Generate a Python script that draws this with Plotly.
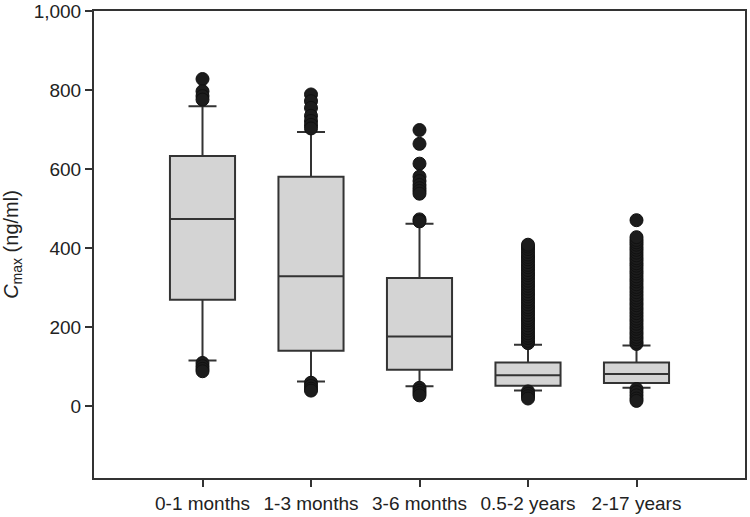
import plotly.graph_objects as go

# age groups and box statistics (ng/ml)
groups = ['0-1 months', '1-3 months', '3-6 months', '0.5-2 years', '2-17 years']
q1 = [270, 141, 93, 52, 59]
median = [474, 329, 177, 79, 82]
q3 = [633, 581, 325, 111, 111]
lower_whisker = [116, 63, 51, 40, 47]
upper_whisker = [759, 694, 462, 156, 154]

# outliers per group
outliers = {
    '0-1 months': [828, 797, 785, 776, 110, 102, 95, 89],
    '1-3 months': [789, 772, 755, 735, 722, 712, 703, 60, 52, 45, 40],
    '3-6 months': [699, 664, 614, 581, 570, 560, 552, 545, 538, 473, 468,
                   47, 40, 34, 28],
    '0.5-2 years': [160, 166, 173, 179, 185, 192, 198, 205, 212, 218, 224, 231,
                    238, 245, 251, 258, 265, 271, 278, 284, 291, 298, 305, 311,
                    318, 325, 332, 338, 345, 352, 358, 365, 372, 378, 384, 391,
                    398, 404, 409, 38, 32, 26, 20],
    '2-17 years': [158, 163, 170, 176, 183, 189, 196, 202, 209, 216, 222, 229,
                   236, 243, 249, 256, 262, 269, 275, 282, 289, 296, 302, 309,
                   316, 322, 329, 336, 342, 349, 356, 362, 369, 375, 382, 389,
                   396, 402, 409, 415, 421, 428, 471, 44, 36, 28, 20, 14],
}

y_ticks = [0, 200, 400, 600, 800, 1000]

edge = '#333333'
fnt = dict(family='Liberation Sans, Arial, sans-serif', size=19, color='#222222')
title_fnt = dict(family='Liberation Sans, Arial, sans-serif', size=20, color='#222222')

fig = go.Figure()

fig.add_trace(go.Box(
    x=groups,
    q1=q1, median=median, q3=q3,
    lowerfence=lower_whisker, upperfence=upper_whisker,
    width=0.6,
    whiskerwidth=0.43,
    fillcolor='#d4d4d4',
    line=dict(color=edge, width=2),
    boxpoints=False,
    hoverinfo='skip',
    showlegend=False,
))

ox = []
oy = []
for g in groups:
    for v in outliers[g]:
        ox.append(g)
        oy.append(v)

fig.add_trace(go.Scatter(
    x=ox, y=oy, mode='markers',
    marker=dict(size=13, color='#1c1c1c', line=dict(color='#111111', width=1)),
    showlegend=False, hoverinfo='skip',
))

fig.update_layout(
    width=750, height=517,
    margin=dict(l=94, r=5, t=11, b=39),
    paper_bgcolor='white', plot_bgcolor='white',
    font=fnt,
)

fig.update_xaxes(
    type='category', categoryorder='array', categoryarray=groups,
    range=[-1, 5], automargin=False,
    showline=True, linecolor=edge, linewidth=2, mirror=True,
    ticks='outside', ticklen=7, tickwidth=1.5, tickcolor=edge,
    showgrid=False, zeroline=False, tickfont=fnt,
)

fig.update_yaxes(
    range=[-181, 1000], automargin=False,
    tickvals=y_ticks, tickformat=',',
    showline=True, linecolor=edge, linewidth=2, mirror=True,
    ticks='outside', ticklen=7, tickwidth=1.5, tickcolor=edge,
    showgrid=False, zeroline=False, tickfont=fnt,
    title=dict(text='<i>C</i><sub>max</sub> (ng/ml)', font=title_fnt, standoff=20),
)

# drop the default 8px body margin so the figure fills the window
fig.write_html('out.html', config={'displayModeBar': False},
               post_script="document.body.style.margin = '0';")
